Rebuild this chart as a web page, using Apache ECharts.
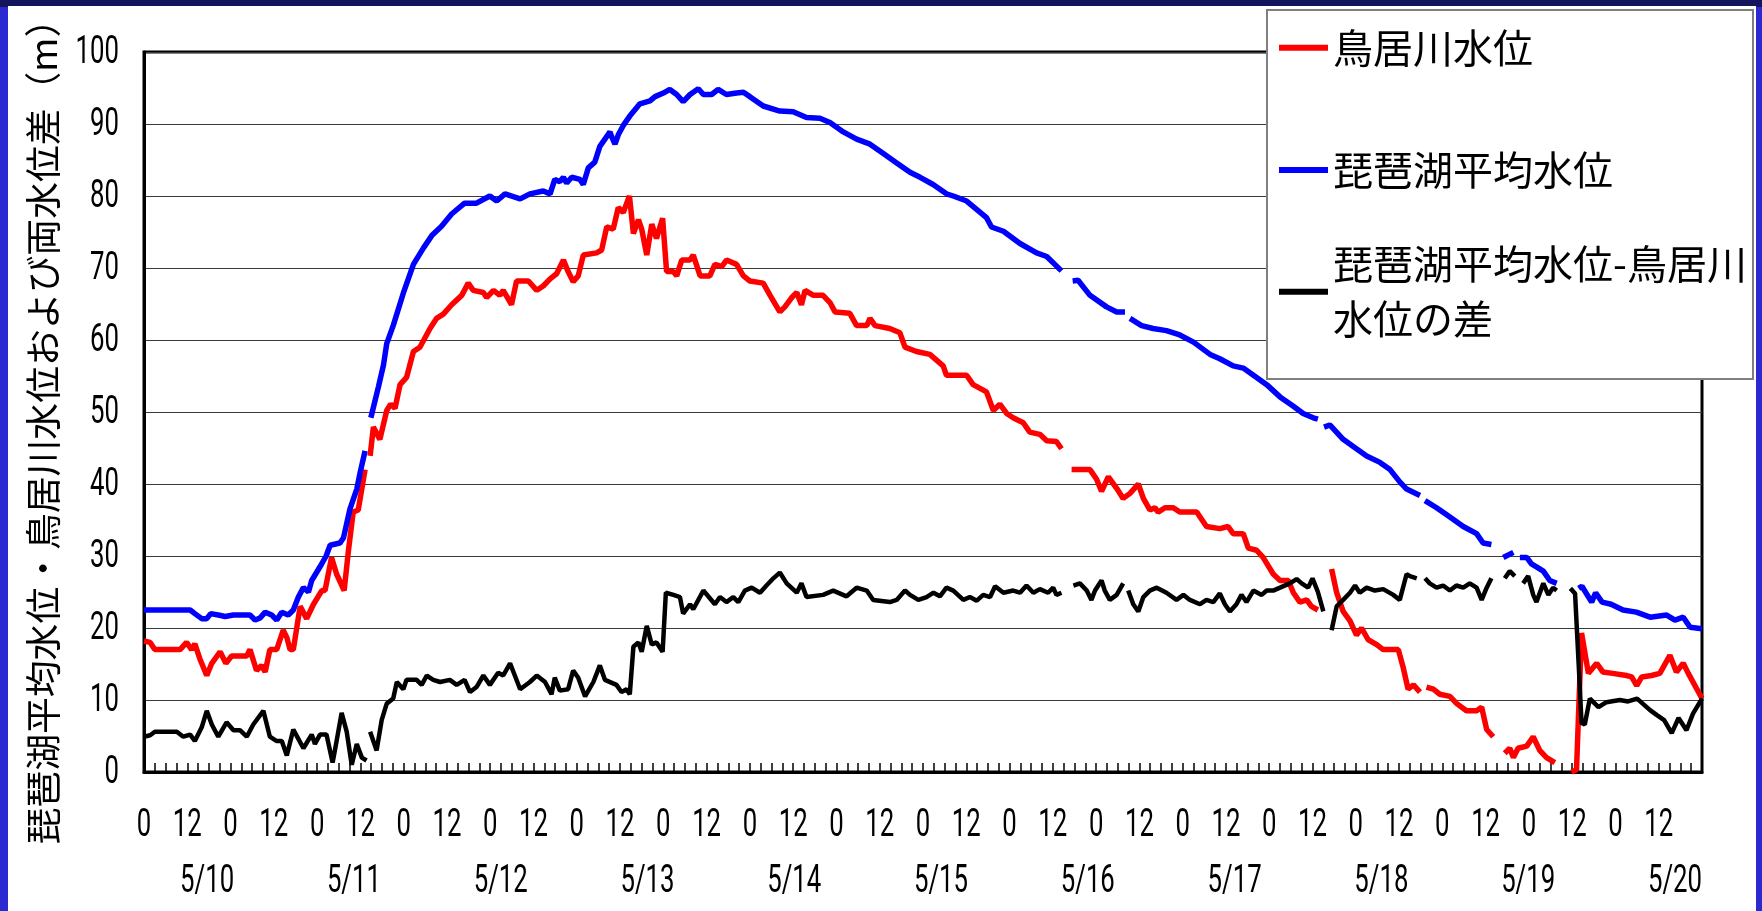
<!DOCTYPE html>
<html><head><meta charset="utf-8">
<script src="https://cdn.jsdelivr.net/npm/echarts@6/dist/echarts.min.js"></script>
<style>
html,body{margin:0;padding:0;width:1762px;height:911px;overflow:hidden;background:#2a2ad0;}
#topband{position:absolute;left:0;top:0;width:1762px;height:7px;background:#15155e;}
#chart{position:absolute;left:8px;top:6px;width:1748px;height:905px;background:#fff;}
</style></head><body>
<div id="topband"></div><div id="chart"></div>
<script>
const SERIES_NAMES = ['鳥居川水位', '琵琶湖平均水位', '琵琶湖平均水位-鳥居川水位の差'];
const HOUR_LABELS = ['0', '12'];
const DATE_LABELS = ['5/10','5/11','5/12','5/13','5/14','5/15','5/16','5/17','5/18','5/19','5/20'];
const Y_TICKS = [0, 10, 20, 30, 40, 50, 60, 70, 80, 90, 100];
const Y_TITLE = '琵琶湖平均水位・鳥居川水位および両水位差（m）';

// x = hours from the start of the axis, y = metres ('-' = missing data)
const TORII = [[0,18.2],[1.7,18.0],[3,17.0],[10,17.0],[11.8,18.0],[13.2,17.0],[14.1,17.8],[15.5,15.7],[17.4,13.4],[18.8,15.1],[21.1,16.7],[22.7,15.1],[24.3,16.1],[28.5,16.1],[29.4,17.0],[31.2,14.1],[32.6,14.8],[33.6,13.9],[34.9,17.0],[36.8,17.0],[38.6,19.7],[39.6,18.7],[40.5,17.0],[41.4,17.0],[43.3,23.0],[45.1,21.3],[47,23.3],[49.3,25.2],[50.2,25.2],[52,29.8],[53.4,27.5],[55.5,25.2],[56.7,30.8],[58,36.1],[59.4,36.4],[61.3,42.0],[62,'-'],[62.7,43.9],[63.6,47.9],[65.4,46.2],[67.3,50.2],[68.4,51.1],[69.6,50.5],[71,53.8],[72.8,54.8],[74.7,58.4],[76.5,59.0],[79.3,61.6],[81.1,63.0],[83,63.6],[85.3,64.9],[88.1,66.2],[89.9,67.9],[91.3,66.9],[94.1,66.6],[95,65.9],[96.9,66.9],[98.7,66.2],[99.6,66.9],[101.9,64.9],[103.3,68.2],[106.6,68.2],[108.9,66.9],[110.7,67.5],[112.6,68.5],[114.4,69.2],[116.3,71.1],[117.6,69.5],[119,68.1],[120.4,68.9],[121.8,71.8],[125.5,72.1],[126.9,72.5],[128.3,75.7],[130.1,75.4],[131.5,78.4],[132.9,77.7],[134.6,80.0],[135.7,74.8],[137.1,76.7],[138,75.4],[139.4,71.8],[140.8,76.1],[142.1,74.1],[143.8,76.9],[144.9,69.5],[146.8,69.5],[147.7,68.9],[149.1,71.1],[151.4,71.1],[152.3,71.8],[154.2,68.9],[156.9,68.9],[158.3,70.5],[160.2,70.2],[161.5,71.1],[164.3,70.5],[166.2,68.9],[168,68.2],[171.7,67.9],[173.6,66.2],[176.3,63.9],[177.7,64.6],[179.6,65.9],[181,66.6],[182.3,64.9],[183.3,66.9],[185.6,66.2],[188.3,66.2],[190.2,65.2],[191.6,63.9],[195.7,63.7],[197.6,62.0],[200.4,62.0],[201.3,63.0],[202.7,62.0],[206.8,61.6],[209.6,61.0],[211,59.0],[214.2,58.4],[217.9,58.0],[221.6,56.4],[222.5,55.1],[228.1,55.1],[229.9,53.8],[233.6,52.8],[235.5,50.2],[237.3,51.1],[239.2,49.8],[241,49.2],[243.8,48.5],[245.6,47.2],[248.4,46.9],[250.3,46.0],[253,45.9],[254.4,44.9],[255.8,'-'],[257.2,42.0],[262.3,42.0],[264.1,40.7],[265.5,39.0],[267.4,41.0],[269.7,39.4],[271.5,38.0],[273.4,38.7],[275.7,40.0],[277.1,38.0],[278.9,36.4],[280.3,36.7],[281.2,36.1],[283.1,36.7],[285.4,36.7],[287.2,36.1],[291.9,36.1],[294.6,34.1],[298.3,33.8],[300.6,34.1],[302,33.1],[304.8,33.1],[306.2,31.1],[308.5,30.8],[310.3,29.8],[313.1,27.5],[315,26.6],[317.3,26.6],[318.7,24.9],[320.5,23.6],[322.4,23.9],[323.7,23.0],[325.5,22.5],[327.5,'-'],[329.3,28.2],[330.7,24.9],[332.5,22.3],[334.4,21.0],[336.2,19.0],[337.6,20.0],[339.4,18.4],[341.8,17.7],[343.6,17.0],[347.8,17.0],[349.2,14.4],[350.5,11.5],[352,12.1],[353.8,11.1],[354.7,'-'],[355.6,11.8],[357.5,11.5],[359.3,10.8],[362.1,10.5],[364,9.5],[366.7,8.5],[369.5,8.5],[370.9,9.0],[372.3,5.9],[374.1,4.9],[375.7,'-'],[377.3,2.6],[378.7,3.3],[379.7,2.0],[381,3.3],[383.4,3.6],[385.2,4.9],[387,3.0],[388.9,2.0],[391.2,1.3],[393.5,'-'],[395.8,0],[397.2,0.3],[398.6,19.3],[400.5,13.7],[402.8,15.1],[404.5,13.9],[407.2,13.7],[411.1,13.4],[412.5,13.2],[413.9,12.0],[415.3,13.2],[418,13.4],[420.3,13.7],[423.1,16.2],[424.9,13.9],[426.8,15.1],[428.2,13.7],[432,10.2]];

const BIWA = [[0,22.5],[12.8,22.5],[14.1,22.0],[16,21.3],[17.4,21.3],[18.5,22.0],[20.6,21.8],[22.5,21.6],[24.8,21.8],[29.4,21.8],[30.8,21.1],[32.2,21.4],[33.6,22.2],[35.4,21.8],[36.8,21.1],[38.2,22.2],[40,21.8],[41.4,22.5],[42.8,24.3],[44.2,25.6],[45.6,25.0],[46.5,26.6],[48.8,28.5],[50.5,30.0],[51.6,31.5],[54.3,31.8],[55.3,32.5],[57.1,36.5],[59,39.3],[59.9,41.5],[61.3,44.6],[62.1,'-'],[62.9,49.2],[65,53.5],[66.4,56.5],[67.3,59.5],[69.1,62.0],[71.9,66.5],[74.7,70.5],[77.5,72.8],[79.8,74.5],[82.5,75.8],[85.3,77.5],[88.9,79.0],[92.2,79.0],[95.9,80.0],[97.8,79.3],[100.1,80.3],[104.3,79.6],[107,80.3],[110.7,80.7],[112.6,80.3],[113.9,82.3],[115.3,82.0],[116.3,82.6],[117.2,81.8],[118.6,82.6],[120.9,82.3],[121.8,81.6],[123.2,83.9],[125,84.7],[126.4,86.9],[127.8,87.9],[129.2,88.9],[129.7,88.2],[130.6,87.2],[131.5,88.5],[132.9,89.8],[134.7,91.1],[137.5,92.8],[140.3,93.2],[141.7,93.8],[144,94.3],[145.8,94.8],[147.7,94.1],[149.5,93.1],[151.4,94.1],[153.7,94.9],[155.1,94.1],[157.4,94.1],[159.2,94.8],[161.5,94.1],[164.3,94.3],[166.2,94.4],[168,93.8],[171.7,92.5],[176.3,91.8],[180,91.7],[183.7,90.9],[187.4,90.8],[190.2,90.2],[193.9,88.9],[197.6,87.9],[201.3,87.2],[205,85.9],[208.7,84.6],[212.4,83.3],[215.2,82.6],[218.8,81.6],[222.5,80.3],[224.4,80.0],[228.1,79.3],[233.6,77.0],[235,75.7],[238.3,75.1],[242.9,73.4],[247.5,72.1],[250.3,71.6],[254.4,69.6],[256,'-'],[257.5,68.2],[259,68.3],[262.3,66.2],[266.9,64.6],[269.7,63.9],[272,63.9],[272.7,'-'],[273.4,63.0],[276.6,62.0],[279.8,61.6],[283.5,61.3],[287.2,60.7],[291,59.7],[295.6,58.0],[298.3,57.4],[302,56.4],[304.8,56.1],[308.5,54.8],[311.3,53.8],[315,52.1],[318.7,50.8],[321.4,49.8],[324.2,49.2],[325.5,49.0],[326.3,'-'],[327.2,47.9],[328.8,48.2],[332.5,46.2],[335.3,45.2],[339,43.9],[342.7,43.0],[345.5,42.0],[348.2,40.3],[350.1,39.3],[353.8,38.4],[354.5,'-'],[355.2,37.7],[358.4,36.7],[362.1,35.4],[365.8,34.1],[369.5,33.1],[371.3,31.8],[373.6,31.6],[375.2,'-'],[376.9,29.8],[379.7,30.5],[380.6,'-'],[381.5,29.8],[383.4,29.8],[384.7,28.9],[386.1,28.5],[388,27.9],[389.8,26.6],[391.7,26.2],[394.7,'-'],[397.8,25.5],[398.7,25.8],[401.4,23.6],[402.5,24.9],[404.3,23.6],[406.8,23.3],[410.1,22.5],[413.8,22.2],[417.6,21.5],[422.2,21.8],[424.5,21.1],[426.8,21.5],[428.7,20.1],[432,19.9]];

const DIFF = [[0,4.9],[1.7,5.1],[3,5.6],[6.3,5.6],[9.1,5.6],[10.9,4.9],[12.8,5.2],[14.1,4.3],[16,6.2],[17.4,8.5],[18.8,6.6],[20.6,4.9],[22.9,6.9],[24.8,5.8],[26.6,5.8],[28.5,4.9],[30.3,6.6],[33.1,8.5],[34.9,4.9],[36.8,4.3],[38.2,4.3],[39.6,2.3],[41.4,5.9],[42.8,4.6],[44.2,3.3],[46.5,5.2],[47.4,3.9],[48.8,5.2],[50.6,5.2],[52.3,1.3],[53.4,4.3],[54.8,8.2],[56.2,5.6],[57.6,1.0],[59,3.9],[60.4,2.0],[61.7,1.6],[62.2,'-'],[62.7,5.6],[64.5,3.0],[65.9,7.2],[67.3,9.5],[69.1,10.2],[70.1,12.5],[71.9,11.5],[72.8,12.8],[75.6,12.8],[77,12.1],[78.4,13.4],[80.2,12.8],[82.1,12.5],[84.8,12.8],[86.7,12.1],[88.9,12.8],[90.4,11.1],[92.2,11.8],[94.1,13.4],[95.9,12.1],[98.2,13.8],[99.6,13.4],[101.5,15.1],[104.3,11.5],[107,12.5],[108.9,13.4],[111.2,12.5],[113,10.8],[113.9,13.1],[115.3,11.3],[117.6,11.5],[119,14.1],[120.4,13.1],[122.3,10.5],[124.6,12.5],[126.4,14.8],[127.8,12.8],[131,12.1],[132.4,11.1],[133.8,11.5],[134.7,10.8],[135.7,17.4],[137.1,18.0],[138,16.7],[139.4,20.3],[140.8,17.7],[142.1,18.0],[143.8,16.7],[144.7,24.9],[146.8,24.6],[148.6,24.3],[149.5,22.0],[151.4,23.3],[152.3,22.6],[155.1,25.2],[158.3,23.3],[159.7,24.3],[161.5,23.6],[163.4,24.3],[164.8,23.6],[166.6,25.2],[168.5,25.6],[170.8,24.9],[172.6,25.9],[174.5,26.9],[176.3,27.7],[178.2,26.2],[181,24.9],[182.3,26.2],[183.7,24.3],[188.3,24.6],[191.1,25.2],[194.8,24.4],[197.6,25.6],[200.4,25.2],[202.2,23.9],[206.8,23.6],[208.7,23.9],[211,25.2],[212.4,24.6],[214.7,23.9],[217,24.3],[218.9,24.9],[220.7,24.4],[222.5,25.6],[224.4,25.2],[227.2,23.9],[229,24.3],[230.9,23.8],[232.7,24.6],[234.6,24.3],[236,25.8],[238.3,24.9],[241,25.2],[242.9,24.9],[244.7,25.9],[246.6,24.9],[248.4,25.4],[250.7,24.9],[252.1,25.6],[253,24.6],[254.4,24.9],[256,'-'],[257.7,25.9],[259.5,26.2],[261.4,25.2],[262.7,23.9],[263.7,25.2],[265.5,26.6],[266.4,25.2],[267.8,23.9],[269.7,24.6],[271.5,26.2],[272.2,'-'],[272.9,25.2],[274.3,23.3],[275.7,22.3],[277.1,24.3],[278.9,25.2],[280.8,25.6],[283.5,24.9],[286.3,23.9],[288.2,24.6],[290,23.9],[292.8,23.3],[294.6,23.9],[296.5,23.6],[298.3,24.8],[299.7,23.3],[301.1,22.3],[302.9,23.3],[304.3,24.6],[305.7,23.6],[307.6,25.2],[309.9,24.6],[311.3,25.2],[313.1,25.2],[315,25.6],[317.7,26.2],[319.6,26.8],[321,26.2],[322.8,25.6],[324,26.9],[325.5,25.0],[327,22.3],[328.2,'-'],[329.3,19.7],[330.7,23.0],[332.5,23.9],[334.4,24.9],[335.8,25.9],[337.1,24.9],[339,25.6],[341.3,25.2],[343.6,25.4],[346.4,24.6],[348.2,23.9],[350.1,27.5],[351,27.2],[352.9,26.9],[354,'-'],[355.2,26.9],[356.5,26.2],[358.4,25.6],[360.2,25.9],[362.1,25.2],[363.9,25.9],[365.8,25.6],[367.6,26.2],[369.5,25.6],[370.9,23.9],[372.3,25.6],[373.6,26.9],[375.5,'-'],[377.3,26.9],[378.7,27.9],[380.1,27.2],[381.2,'-'],[382.4,26.2],[383.8,27.2],[385.2,24.6],[386.1,23.6],[388,26.2],[389.4,24.6],[390.7,25.6],[391.7,25.2],[393.6,'-'],[395.5,25.5],[396.8,24.8],[397.8,15.0],[398.6,6.8],[399.5,6.6],[400.9,10.2],[403.3,9.0],[405.5,9.7],[409.2,10.0],[411.5,9.8],[414,10.2],[417.6,8.6],[419.5,7.9],[421.5,7.2],[423.6,5.4],[425.5,7.5],[427.7,5.8],[429.5,8.1],[432,10.2]];

const NUM_FONT = "Roboto, 'DejaVu Sans', sans-serif";
const JP = "'Noto Sans CJK JP','Noto Sans CJK SC',sans-serif";
const X_MAX = 432, X_STEP = 12, DATE_START = 17.5, DATE_STEP = 40.7;
const NUM_SIZE = 39, NUM_SCALE_X = 0.66;

const chart = echarts.init(document.getElementById('chart'), null, {renderer: 'canvas'});

function legendBlock(i, top, extra) {
  return Object.assign({
    left: 1271, top: top, orient: 'vertical', padding: 0, z: 20,
    icon: 'rect', itemWidth: 49, itemHeight: 6, selectedMode: false,
    data: [SERIES_NAMES[i]],
    textStyle: {fontFamily: JP, fontSize: 40, color: '#000', lineHeight: 48}
  }, extra || {});
}

const option = {
  animation: false,
  backgroundColor: '#fff',
  grid: {left: 136, top: 46, right: 54, bottom: 139, show: true, borderColor: '#000', borderWidth: 3, backgroundColor: '#fff'},
  xAxis: {
    type: 'value', min: 0, max: X_MAX, interval: X_STEP, position: 'bottom',
    axisLine: {show: true, onZero: false, lineStyle: {color: '#000', width: 3}},
    axisTick: {show: true, inside: true, length: 9, lineStyle: {color: '#000', width: 1.5}},
    minorTick: {show: true, splitNumber: 4, length: 9, lineStyle: {color: '#000', width: 1.5}},
    splitLine: {show: false},
    axisLabel: {show: false}
  },
  yAxis: {
    type: 'value', min: 0, max: 100, interval: 10,
    axisLine: {show: true, lineStyle: {color: '#000', width: 3}},
    axisTick: {show: false},
    splitLine: {show: true, lineStyle: {color: '#3a3a3a', width: 1.2}},
    axisLabel: {show: false}
  },
  legend: [
    legendBlock(0, 41.7 - 24),
    legendBlock(1, 164 - 24),
    legendBlock(2, 285.7 - 82.5, {
      formatter: n => n.replace('鳥居川水位の差', '鳥居川\n水位の差'),
      textStyle: {fontFamily: JP, fontSize: 40, color: '#000', lineHeight: 55, padding: [55, 0, 0, 0]}
    })
  ],
  series: [
    {name: SERIES_NAMES[0], type: 'line', data: TORII, showSymbol: false, symbol: 'none', clip: false,
     connectNulls: false, color: '#ff0000', lineStyle: {color: '#ff0000', width: 5.5}},
    {name: SERIES_NAMES[1], type: 'line', data: BIWA, showSymbol: false, symbol: 'none', clip: false,
     connectNulls: false, color: '#0000ff', lineStyle: {color: '#0000ff', width: 5.5}},
    {name: SERIES_NAMES[2], type: 'line', data: DIFF, showSymbol: false, symbol: 'none', clip: false,
     connectNulls: false, color: '#000000', lineStyle: {color: '#000000', width: 4.5}}
  ]
};
chart.setOption(option);

// Axis labels in a condensed face: positions come from the chart's own axes.
function numText(text, x, y, align) {
  return {type: 'text', z: 10, x: x, y: y, scaleX: NUM_SCALE_X, silent: true,
    style: {text: text, fontSize: NUM_SIZE, fontFamily: NUM_FONT, fill: '#000',
            align: align, verticalAlign: 'middle', textAlign: align, textVerticalAlign: 'middle'}};
}
const graphics = [
  {type: 'rect', z: 10, shape: {x: 1259, y: 4, width: 486, height: 369},
   style: {fill: '#fff', stroke: '#7f7f7f', lineWidth: 2}},
  {type: 'text', z: 10, x: 35, y: 416.6, rotation: Math.PI / 2,
   style: {text: Y_TITLE, fontSize: 36.8, fontFamily: JP, fill: '#000',
           align: 'center', verticalAlign: 'middle', textAlign: 'center', textVerticalAlign: 'middle'}}
];
Y_TICKS.forEach(v => {
  const p = chart.convertToPixel({gridIndex: 0}, [0, v]);
  graphics.push(numText(String(v), p[0] - 25, p[1] + 1, 'right'));
});
for (let v = 0; v < X_MAX; v += X_STEP) {
  const p = chart.convertToPixel({gridIndex: 0}, [v, 0]);
  graphics.push(numText(HOUR_LABELS[Math.round(v / X_STEP) % 2], p[0], p[1] + 54, 'center'));
}
DATE_LABELS.forEach((d, i) => {
  const p = chart.convertToPixel({gridIndex: 0}, [DATE_START + DATE_STEP * i, 0]);
  graphics.push(numText(d, p[0], p[1] + 110.6, 'center'));
});
chart.setOption({graphic: graphics});
</script>
</body></html>
